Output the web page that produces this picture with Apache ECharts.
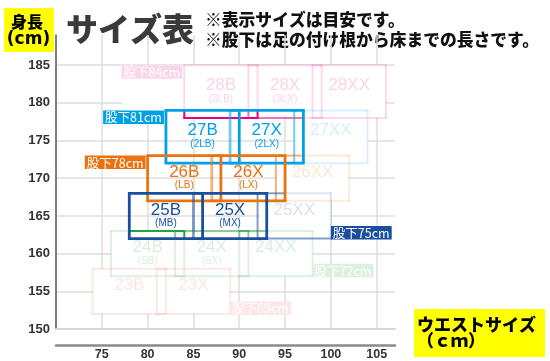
<!DOCTYPE html>
<html><head><meta charset="utf-8">
<script src="https://cdn.jsdelivr.net/npm/echarts@6/dist/echarts.min.js"></script>
<style>html,body{margin:0;padding:0;background:#fff}#c{width:550px;height:361px}</style>
</head><body><div id="c"></div>
<script>
// ---- data ----
const rowNames = ['28','27','26','25','24','23'];
const inseamLabels = ['股下84cm','股下81cm','股下78cm','股下75cm','股下72cm','股下69cm'];
const rowColors = ['#e4007f','#00a0e9','#e8730f','#1a4f9f','#22a33c','#ec6a58'];
const heightMin = [178,172,167,162,157,152];
const heightMax = [185,179,173,168,163,158];
const waistB  = [[84,92],[82,90],[80,88],[78,86],[76,84],[74,82]];
const waistX  = [[91,99],[89,97],[87,95],[85,93],[83,91],[81,89]];
const waistXX = [[98,106],[96,104],[94,102],[92,100],[90,98],null];
const subB = ['(3LB)','(2LB)','(LB)','(MB)','(SB)',''];
const subX = ['(3LX)','(2LX)','(LX)','(MX)','(SX)',''];
const labelSide = ['left','left','left','right','right','right'];
const focusRows = ['27','26','25'];
const xTickLabels = [75,80,85,90,95,100,105];
const yTickLabels = [150,155,160,165,170,175,180,185];

const FADE = 0.15, MID = 0.55;
function rgba(hex,a){const n=parseInt(hex.slice(1),16);return 'rgba('+((n>>16)&255)+','+((n>>8)&255)+','+(n&255)+','+a+')';}
function mix(hex,a){const n=parseInt(hex.slice(1),16);const f=c=>Math.round(255-(255-c)*a);return 'rgb('+f((n>>16)&255)+','+f((n>>8)&255)+','+f(n&255)+')';}

const boxes=[];
rowNames.forEach((rn,r)=>{
  [[waistB[r],'B',subB[r]],[waistX[r],'X',subX[r]],[waistXX[r],'XX','']].forEach((t,k)=>{
    if(!t[0]) return;
    boxes.push({r:r,k:k,x0:t[0][0],x1:t[0][1],y0:heightMin[r],y1:heightMax[r],name:rn+t[1],sub:t[2],
      focus: focusRows.indexOf(rn)>=0 && k<2});
  });
});
const focusBoxes = boxes.filter(b=>b.focus);
const fadedBoxes = boxes.filter(b=>!b.focus);

function inside(F,x,y){const e=1e-6;return x>=F.x0-e&&x<=F.x1+e&&y>=F.y0-e&&y<=F.y1+e;}
function alphaAt(b,x,y){
  let same=false, other=false;
  focusBoxes.forEach(F=>{
    if(F===b||!inside(F,x,y)) return;
    if(F.r===b.r){ if(F.k<b.k) same=true; } else other=true;
  });
  if(same) return MID;
  if(other && !b.focus) return b.k===0?1:MID;
  return b.focus?1:FADE;
}
function segmentsOf(b){
  const out=[];
  const edges=[['h',b.y1,b.x0,b.x1,'top'],['h',b.y0,b.x0,b.x1,'bottom'],['v',b.x0,b.y0,b.y1,'left'],['v',b.x1,b.y0,b.y1,'right']];
  const connector = !b.focus && focusRows.indexOf(rowNames[b.r])>=0 && labelSide[b.r]==='right';
  edges.forEach(ed=>{
    const dir=ed[0],c=ed[1],a0=ed[2],a1=ed[3];
    const pts=[a0,a1];
    focusBoxes.forEach(F=>{
      const lo=dir==='h'?F.x0:F.y0, hi=dir==='h'?F.x1:F.y1;
      [lo,hi].forEach(p=>{ if(p>a0&&p<a1) pts.push(p); });
    });
    pts.sort((p,q)=>p-q);
    let cur=null;
    for(let i=0;i<pts.length-1;i++){
      const s=pts[i],e=pts[i+1]; if(e-s<1e-9) continue;
      const m=(s+e)/2;
      let al = dir==='h'?alphaAt(b,m,c):alphaAt(b,c,m);
      if(connector && ed[4]==='bottom') al=Math.max(al,MID);
      if(cur&&cur.al===al){cur.e=e;}
      else{cur={dir:dir,c:c,s:s,e:e,al:al,a0:a0,a1:a1};out.push(cur);}
    }
  });
  return out;
}

function fillItem(params,api){
  const b=fadedBoxes[params.dataIndex];
  const p0=api.coord([b.x0,b.y1]), p1=api.coord([b.x1,b.y0]);
  let x=p0[0];
  if(b.k===0 && labelSide[b.r]==='left') x-=62;
  return {type:'rect',shape:{x:x,y:p0[1],width:p1[0]-x,height:p1[1]-p0[1]},style:{fill:'rgba(255,255,255,0.94)'}};
}
function strokeItem(list){
  return function(params,api){
    const b=list[params.dataIndex];
    const lw=b.focus?2.8:2;
    const children=segmentsOf(b).map(s=>{
      let p0,p1;
      if(s.dir==='h'){p0=api.coord([s.s,s.c]);p1=api.coord([s.e,s.c]);
        if(s.s===s.a0)p0[0]-=lw/2; if(s.e===s.a1)p1[0]+=lw/2;}
      else{p0=api.coord([s.c,s.s]);p1=api.coord([s.c,s.e]);}
      return {type:'line',shape:{x1:p0[0],y1:p0[1],x2:p1[0],y2:p1[1]},
        style:{stroke:rgba(rowColors[b.r],s.al),lineWidth:lw,lineCap:'butt'}};
    });
    const c0=api.coord([b.x0,b.y1]), c1=api.coord([b.x1,b.y0]);
    const cx=(c0[0]+c1[0])/2, cy=(c0[1]+c1[1])/2;
    const tcol=b.focus?rowColors[b.r]:mix(rowColors[b.r],0.17);
    children.push({type:'text',style:{text:b.name,x:cx,y:cy-6,align:'center',verticalAlign:'middle',
      font:'17px "Liberation Sans Narrow","Liberation Sans",Arial,sans-serif',fill:tcol}});
    if(b.sub) children.push({type:'text',style:{text:b.sub,x:cx,y:cy+7.5,align:'center',verticalAlign:'middle',
      font:'10px "Liberation Sans",Arial,sans-serif',fill:tcol}});
    return {type:'group',children:children};
  };
}
function labelItem(params,api){
  const r=params.dataIndex;
  const focus=focusRows.indexOf(rowNames[r])>=0;
  const bg=focus?rowColors[r]:mix(rowColors[r],0.16);
  let st;
  if(labelSide[r]==='left'){
    const p=api.coord([waistB[r][0],heightMax[r]]);
    st={x:p[0]-2,y:p[1],align:'right',verticalAlign:'top'};
  } else {
    const last=waistXX[r]||waistX[r];
    const p=api.coord([last[1],heightMin[r]]);
    st={x:p[0],y:p[1]+1,align:'left',verticalAlign:'bottom'};
  }
  st.text=inseamLabels[r]; st.font='12.5px "Noto Sans CJK JP",sans-serif'; st.fill='#fff';
  st.backgroundColor=bg; st.padding=[1,2,0,2];
  return {type:'text',style:st};
}
const boxData=list=>list.map(b=>[b.x0,b.y0,b.x1,b.y1]);
const labelData=rowNames.map((rn,r)=>labelSide[r]==='left'?[waistB[r][0],heightMax[r]]:[(waistXX[r]||waistX[r])[1],heightMin[r]]);

const chart=echarts.init(document.getElementById('c'),null,{renderer:'canvas'});
const axisFont='"Liberation Sans",Arial,sans-serif';
chart.setOption({
  animation:false,
  grid:{left:56,right:155,top:35,bottom:31},
  xAxis:[
    {type:'value',min:70,max:107,interval:5,position:'bottom',
     axisLine:{show:true,onZero:false,lineStyle:{color:'#d6d6d6',width:2}},axisTick:{show:false},axisLabel:{show:false},
     splitLine:{show:true,showMinLine:false,showMaxLine:false,lineStyle:{color:'#dedede',width:1.5}}},
    {type:'value',min:70,max:107,interval:5,position:'bottom',offset:16,
     axisLine:{show:true,onZero:false,lineStyle:{color:'#8a8a8a',width:2.5}},axisTick:{show:false},splitLine:{show:false},
     axisLabel:{show:true,showMinLabel:false,showMaxLabel:false,color:'#333',fontWeight:'bold',fontSize:12.5,fontFamily:axisFont,margin:3,
       formatter:v=>xTickLabels.indexOf(v)>=0?String(v):''}}
  ],
  yAxis:{type:'value',min:150,max:189,interval:5,
    axisLine:{show:true,onZero:false,lineStyle:{color:'#555',width:1.5}},axisTick:{show:false},
    axisLabel:{showMaxLabel:false,color:'#333',fontWeight:'bold',fontSize:13,fontFamily:axisFont,margin:6,
      formatter:v=>yTickLabels.indexOf(v)>=0?String(v):''},
    splitLine:{show:true,showMinLine:false,showMaxLine:false,lineStyle:{color:'#dedede',width:1.5}}},
  series:[
    {type:'custom',renderItem:fillItem,data:boxData(fadedBoxes),encode:{x:[0,2],y:[1,3]},clip:false,silent:true},
    {type:'custom',renderItem:strokeItem(fadedBoxes),data:boxData(fadedBoxes),encode:{x:[0,2],y:[1,3]},clip:false,silent:true},
    {type:'custom',renderItem:strokeItem(focusBoxes),data:boxData(focusBoxes),encode:{x:[0,2],y:[1,3]},clip:false,silent:true},
    {type:'custom',renderItem:labelItem,data:labelData,encode:{x:0,y:1},clip:false,silent:true}
  ],
  graphic:[
    {type:'rect',shape:{x:4,y:8,width:50,height:44},style:{fill:'#ffff00'}},
    {type:'text',style:{text:'身長',x:27,y:22,align:'center',verticalAlign:'middle',font:'900 16px "Noto Sans CJK JP"',fill:'#000'}},
    {type:'text',style:{text:'(cm)',x:28.5,y:40,align:'center',verticalAlign:'middle',font:'bold 17px "DejaVu Sans"',fill:'#000'}},
    {type:'text',style:{text:'サイズ表',x:66,y:29,align:'left',verticalAlign:'middle',font:'900 32px "Noto Sans CJK JP"',fill:'#3a3a3a'}},
    {type:'text',style:{text:'※表示サイズは目安です。',x:205,y:20,align:'left',verticalAlign:'middle',font:'900 16.8px "Noto Sans CJK JP"',fill:'#111'}},
    {type:'text',style:{text:'※股下は足の付け根から床までの長さです。',x:205,y:40,align:'left',verticalAlign:'middle',font:'900 16.8px "Noto Sans CJK JP"',fill:'#111'}},
    {type:'rect',shape:{x:414,y:309,width:131,height:48},style:{fill:'#ffff00'}},
    {type:'text',style:{text:'ウエストサイズ',x:417,y:324.5,align:'left',verticalAlign:'middle',font:'900 17px "Noto Sans CJK JP"',fill:'#000'}},
    {type:'text',style:{text:'（ｃｍ）',x:417,y:341,align:'left',verticalAlign:'middle',font:'900 17px "Noto Sans CJK JP"',fill:'#000'}}
  ]
});
</script></body></html>
